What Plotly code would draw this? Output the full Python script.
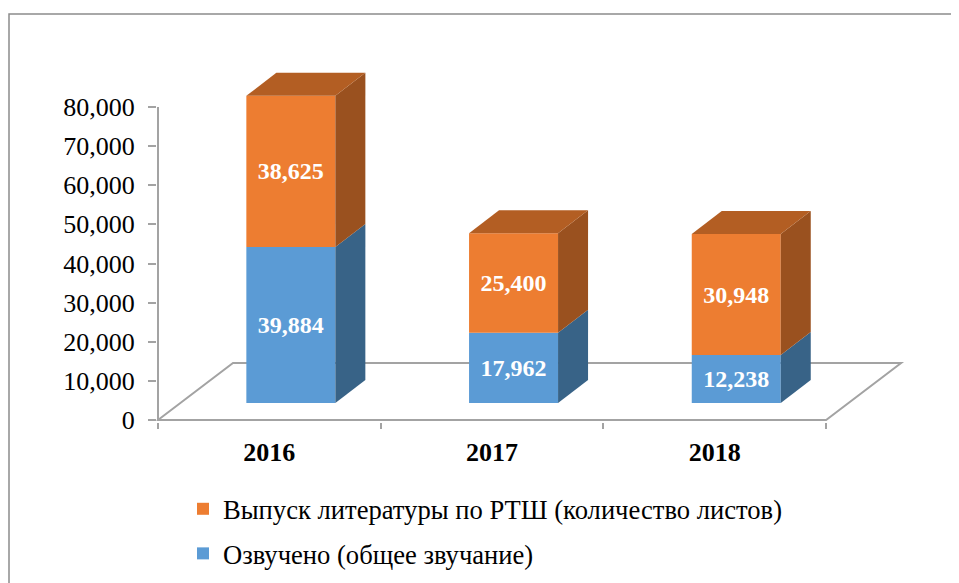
import plotly.graph_objects as go

# ---- data ----
categories = ["2016", "2017", "2018"]
voiced = [39884, 17962, 12238]
published = [38625, 25400, 30948]
name_voiced = "Озвучено (общее звучание)"
name_published = "Выпуск литературы по РТШ (количество листов)"
y_ticks = [0, 10000, 20000, 30000, 40000, 50000, 60000, 70000, 80000]

# ---- geometry of the pseudo-3D look (pixels; page has an 8px body margin) ----
OFF = 8
PAD = 1.5   # room so that lines on the axes are not clipped
W, H = 959 - OFF, 583 - OFF
L, R, T, B = 158 - OFF - PAD, 906 - OFF, 60 - OFF, 420 - OFF + PAD   # plot rectangle
PX_PER_CAT = 222.7
PX_PER_VAL = 313 / 80000
dx = lambda p: p / PX_PER_CAT
dy = lambda p: p / PX_PER_VAL
xr = [-0.5 - dx(PAD), -0.5 + (R - L - PAD) / PX_PER_CAT]
yr = [-dy(PAD), (B - T - PAD) / PX_PER_VAL]

BAR_W = dx(89)
SHIFT_X, SHIFT_Y = dx(21.5), dy(17)
DEPTH_X, DEPTH_Y = dx(30), dy(23)
FLOOR_X, FLOOR_Y = dx(75), dy(57)

GRAY = "#A3A3A3"
FONT = "Liberation Serif"
ORANGE, ORANGE_SIDE, ORANGE_TOP = "#ED7D31", "#9A511F", "#B35E23"
BLUE, BLUE_SIDE = "#5B9BD5", "#386387"

pos = list(range(len(categories)))
fig = go.Figure()

# value axis line
fig.add_trace(go.Scatter(
    x=[-0.5, -0.5], y=[80000, 0], mode="lines",
    line=dict(color=GRAY, width=2), showlegend=False, hoverinfo="skip"))


def face(xs, ys, color):
    fig.add_trace(go.Scatter(
        x=xs, y=ys, mode="lines", line=dict(width=0), fill="toself",
        fillcolor=color, showlegend=False, hoverinfo="skip"))


# side and top faces, computed from the data
for i, c in enumerate(pos):
    right = c + SHIFT_X + BAR_W / 2
    left = c + SHIFT_X - BAR_W / 2
    b0 = SHIFT_Y
    b1 = b0 + voiced[i]
    b2 = b1 + published[i]
    face([right, right + DEPTH_X, right + DEPTH_X, right, right],
         [b0, b0 + DEPTH_Y, b1 + DEPTH_Y, b1, b0], BLUE_SIDE)
    face([right, right + DEPTH_X, right + DEPTH_X, right, right],
         [b1, b1 + DEPTH_Y, b2 + DEPTH_Y, b2, b1], ORANGE_SIDE)
    face([left, left + DEPTH_X, right + DEPTH_X, right, left],
         [b2, b2 + DEPTH_Y, b2 + DEPTH_Y, b2, b2], ORANGE_TOP)

label_font = dict(family=FONT, size=24, color="white", weight="bold")
fig.add_trace(go.Bar(
    x=pos, y=voiced, base=[SHIFT_Y] * 3, width=BAR_W,
    offset=SHIFT_X - BAR_W / 2, name=name_voiced, marker=dict(color=BLUE, line=dict(width=0)),
    text=[f"{v:,}" for v in voiced], textposition="inside", insidetextanchor="middle",
    textangle=0, insidetextfont=label_font, constraintext="none",
    legendgroup="b", legendrank=2))
fig.add_trace(go.Bar(
    x=pos, y=published, base=[SHIFT_Y + v for v in voiced], width=BAR_W,
    offset=SHIFT_X - BAR_W / 2, name=name_published, marker=dict(color=ORANGE, line=dict(width=0)),
    text=[f"{v:,}" for v in published], textposition="inside", insidetextanchor="middle",
    textangle=0, insidetextfont=label_font, constraintext="none",
    legendgroup="a", legendrank=1))

fig.update_layout(
    width=W, height=H, autosize=False,
    margin=dict(l=0, r=0, t=0, b=0, pad=0),
    paper_bgcolor="white", plot_bgcolor="rgba(0,0,0,0)", barmode="overlay",
    font=dict(family=FONT, color="black"),
    xaxis=dict(
        domain=[L / W, R / W], automargin=False,
        range=xr, tickmode="array", tickvals=pos, ticktext=categories,
        showgrid=False, zeroline=False, showline=False, ticks="", ticklen=0,
        ticklabelstandoff=12,
        tickfont=dict(family=FONT, size=26, color="black", weight="bold"),
        minor=dict(tickmode="array", tickvals=[-0.5, 0.5, 1.5, 2.5], ticks="outside",
                   ticklen=6.5, tickwidth=1.5, tickcolor=GRAY, showgrid=False),
    ),
    yaxis=dict(
        domain=[1 - B / H, 1 - T / H], automargin=False,
        range=yr, tickmode="array", tickvals=y_ticks, ticktext=[f"{v:,}" for v in y_ticks],
        showgrid=False, zeroline=False, showline=False, ticks="outside", ticklen=7.5,
        tickwidth=2, tickcolor=GRAY, ticklabelstandoff=8,
        tickfont=dict(family=FONT, size=26, color="black"),
    ),
    legend=dict(
        x=(183 - OFF) / W, xanchor="left", y=1 - (485 - OFF) / H, yanchor="top",
        font=dict(family=FONT, size=26.6, color="black"), traceorder="grouped",
        tracegroupgap=7, bgcolor="rgba(0,0,0,0)", borderwidth=0, itemclick=False,
    ),
    shapes=[
        dict(type="path", xref="paper", yref="paper", layer="below",
             path=(f"M {1 / W} 0 L {1 / W} {1 - 6 / H} L 1 {1 - 6 / H}"),
             line=dict(color="#8C8C8C", width=1.5)),
        # floor, in axis units, beneath the bars
        dict(type="path", xref="x", yref="y", layer="below",
             path=(f"M -0.5 0 L {-0.5 + FLOOR_X} {FLOOR_Y} L {2.5 + FLOOR_X} {FLOOR_Y} "
                   f"L 2.5 0 Z"),
             line=dict(color=GRAY, width=2), fillcolor="white"),
    ],
)

fig.write_html("out.html")
